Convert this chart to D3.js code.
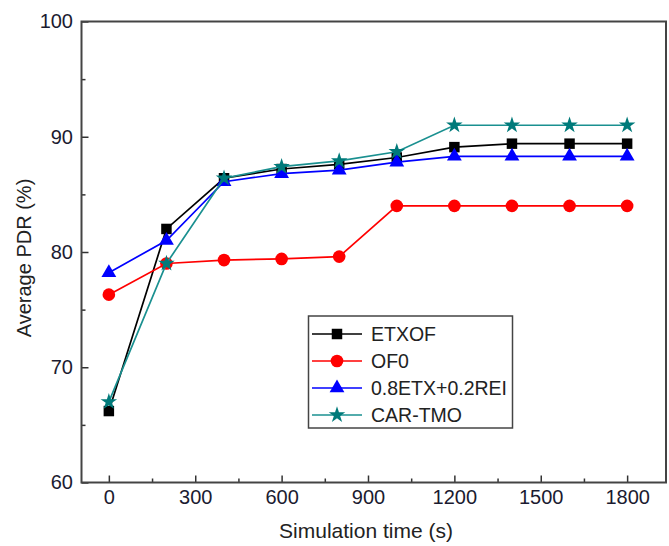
<!DOCTYPE html>
<html><head><meta charset="utf-8">
<script src="https://cdn.jsdelivr.net/npm/d3@7"></script>
<style>body{margin:0;background:#fff}svg{display:block}text{font-family:"Liberation Sans",Arial,sans-serif}</style>
</head><body><svg id="c" width="669" height="546"></svg>
<script>
const times = [0, 200, 400, 600, 800, 1000, 1200, 1400, 1600, 1800];
const etxof = [66.2, 82.0, 86.4, 87.2, 87.6, 88.2, 89.1, 89.4, 89.4, 89.4];
const of0 = [76.3, 79.0, 79.3, 79.4, 79.6, 84.0, 84.0, 84.0, 84.0, 84.0];
const mix = [78.2, 81.0, 86.1, 86.8, 87.1, 87.8, 88.3, 88.3, 88.3, 88.3];
const cartmo = [67.0, 79.0, 86.4, 87.4, 87.9, 88.7, 91.0, 91.0, 91.0, 91.0];
const seriesNames = ["ETXOF", "OF0", "0.8ETX+0.2REI", "CAR-TMO"];
const xTicks = [0, 300, 600, 900, 1200, 1500, 1800];
const xMinor = [150, 450, 750, 1050, 1350, 1650];
const yTicks = [60, 70, 80, 90, 100];
const yMinor = [65, 75, 85, 95];

const svg = d3.select("#c");
const L = 81.5, R = 666, T = 21.5, B = 482.5;
const x = d3.scaleLinear().domain([-95, 1935]).range([L, R]);
const y = d3.scaleLinear().domain([60, 100]).range([B, T]);

const series = [
  {name: seriesNames[0], vals: etxof, color: "#000000", fill: "#000000", sym: d3.symbolSquare, size: 110},
  {name: seriesNames[1], vals: of0, color: "#ff0000", fill: "#ff0000", sym: d3.symbolCircle, size: 125},
  {name: seriesNames[2], vals: mix, color: "#0000ff", fill: "#0000ff", sym: d3.symbolTriangle, size: 95},
  {name: seriesNames[3], vals: cartmo, color: "#1a9090", fill: "#007a7a", sym: d3.symbolStar, size: 85}
];

const gx = svg.append("g").attr("transform", `translate(0,${B})`)
  .call(d3.axisBottom(x).tickValues(xTicks).tickSize(-7).tickPadding(7.5).tickFormat(d3.format("d")));
const gxm = svg.append("g").attr("transform", `translate(0,${B})`)
  .call(d3.axisBottom(x).tickValues(xMinor).tickSize(-4).tickFormat(""));
const gy = svg.append("g").attr("transform", `translate(${L},0)`)
  .call(d3.axisLeft(y).tickValues(yTicks).tickSize(-7).tickPadding(8.5).tickFormat(d3.format("d")));
const gym = svg.append("g").attr("transform", `translate(${L},0)`)
  .call(d3.axisLeft(y).tickValues(yMinor).tickSize(-4).tickFormat(""));
[gx, gxm, gy, gym].forEach(g => {
  g.select(".domain").remove();
  g.selectAll("line").attr("stroke", "#333").attr("stroke-width", 1.5);
  g.selectAll("text").attr("font-size", 20).attr("fill", "#1b1b30");
});
svg.append("rect").attr("x", L).attr("y", T).attr("width", R - L).attr("height", B - T)
  .attr("fill", "none").attr("stroke", "#444").attr("stroke-width", 2);

const line = d3.line().x((d, i) => x(times[i])).y(d => y(d));
series.forEach(s => {
  svg.append("path").datum(s.vals).attr("d", line).attr("fill", "none")
    .attr("stroke", s.color).attr("stroke-width", 1.7);
  svg.selectAll(null).data(s.vals).enter().append("path")
    .attr("d", d3.symbol().type(s.sym).size(s.size))
    .attr("transform", (d, i) => `translate(${x(times[i])},${y(d)})`)
    .attr("fill", s.fill);
});

svg.append("text").attr("x", 366).attr("y", 538).attr("text-anchor", "middle")
  .attr("font-size", 21).attr("fill", "#222").text("Simulation time (s)");
svg.append("text").attr("transform", "translate(31,258) rotate(-90)").attr("text-anchor", "middle")
  .attr("font-size", 20).attr("fill", "#222").text("Average PDR (%)");

const lg = svg.append("g");
lg.append("rect").attr("x", 308.5).attr("y", 316).attr("width", 204).attr("height", 112)
  .attr("fill", "#fff").attr("stroke", "#444").attr("stroke-width", 1.5);
series.forEach((s, i) => {
  const yy = 334 + i * 27;
  lg.append("line").attr("x1", 312).attr("x2", 362).attr("y1", yy).attr("y2", yy)
    .attr("stroke", s.color).attr("stroke-width", 1.7);
  lg.append("path").attr("d", d3.symbol().type(s.sym).size(s.size))
    .attr("transform", `translate(337,${yy})`).attr("fill", s.fill);
  lg.append("text").attr("x", 371).attr("y", yy + 7).attr("font-size", 19.5).attr("fill", "#222").text(s.name);
});
</script></body></html>
